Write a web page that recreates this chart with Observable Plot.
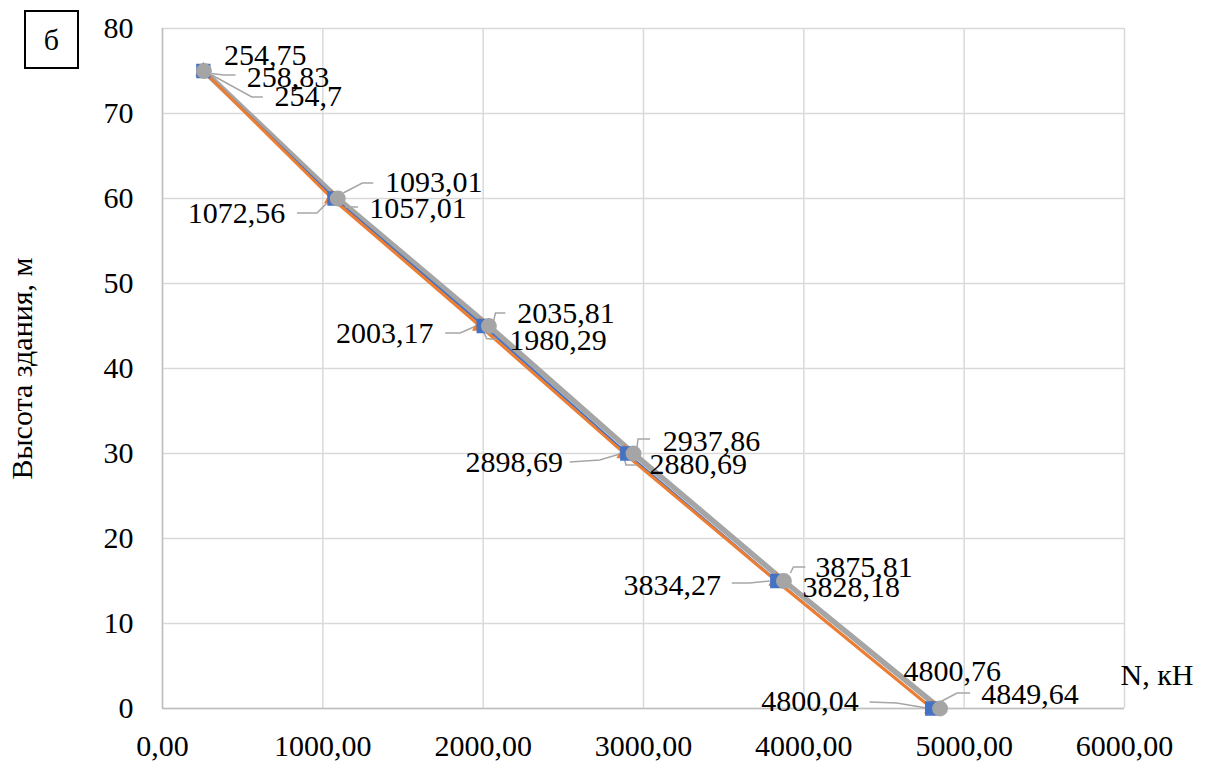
<!DOCTYPE html>
<html><head><meta charset="utf-8">
<script src="https://cdn.jsdelivr.net/npm/d3@7"></script>
<script src="https://cdn.jsdelivr.net/npm/@observablehq/plot@0.6"></script>
<style>
body{margin:0;background:#fff;}
#wrap{position:relative;width:1212px;height:762px;font-family:"Liberation Serif","Times New Roman",serif;}
#wrap svg, #wrap svg text{font-family:"Liberation Serif","Times New Roman",serif !important;}
#tag{position:absolute;left:24px;top:10px;width:51px;height:55px;border:2px solid #000;font-size:30px;display:flex;align-items:center;justify-content:center;line-height:1;}
</style></head><body>
<div id="wrap"><div id="tag">б</div></div>
<script>
// ---- data ----
const heights = [75, 60, 45, 30, 15, 0];
const seriesBlue   = [254.75, 1072.56, 2003.17, 2898.69, 3834.27, 4800.04];
const seriesOrange = [254.7, 1057.01, 1980.29, 2880.69, 3828.18, 4800.76];
const seriesGray   = [258.83, 1093.01, 2035.81, 2937.86, 3875.81, 4849.64];
const xTicks = [0, 1000, 2000, 3000, 4000, 5000, 6000];
const yTicks = [0, 10, 20, 30, 40, 50, 60, 70, 80];
const yTitle = "Высота здания, м";
const xTitle = "N, кН";

// ---- label layout (pixel offsets of label centre from its point, and leader polylines) ----
const layoutBlue = {
  offsets: [[62,-16],[-98,15],[-99,7],[-113,9],[-105,4],[-122,-7]],
  leaders: [null, [[-37,15],[-17,15],[-7,5]], [[-38,7.5],[-23,7.5],[-6,0]], [[-57,9],[-27,7],[-7,1]], [[-45,2.5],[-27,2.5],[-7,0.5]], [[-62,-6],[-35,-5],[-5,0]]]
};
const layoutOrange = {
  offsets: [[105,25],[86,10],[78,14],[74,11],[75,6],[20,-37]],
  leaders: [[[9,4.5],[49,26.5],[60,26.5]], [[13.5,9],[26.5,9]], [[4,6],[7,13],[17,14]], [[1,7],[2,12],[13,12]], null, null]
};
const layoutGray = {
  offsets: [[84,6],[96,-16],[77,-13],[78,-12],[80,-14],[90,-14]],
  leaders: [[[8,3],[20,4.5],[32,4.5]], [[6,-5],[25,-15],[36,-15]], [[5,-3.5],[7,-12.5],[17,-12.5]], [[4,-6],[5,-14],[17,-14]], [[7,-7.5],[10,-13.5],[22,-13.5]], [[0.5,-6],[17.5,-15],[30.5,-15]]]
};

const series = [
  {values: seriesBlue, color: "#4472C4", symbol: "square", r: 7.2, width: 2, layout: layoutBlue},
  {values: seriesOrange, color: "#ED7D31", symbol: "triangle", r: 5, width: 3, layout: layoutOrange},
  {values: seriesGray, color: "#A5A5A5", symbol: "circle", r: 7.2, width: 5.5, layout: layoutGray}
];
const rows = s => s.values.map((v, i) => ({N: v, h: heights[i], i}));
const fmtComma = v => String(v).replace(".", ",");
const fmtTick = v => v.toFixed(2).replace(".", ",");
const FONT = '"Liberation Serif", "Times New Roman", serif';

const leaderMark = (index, scales) => {
  const g = d3.create("svg:g").attr("fill", "none").attr("stroke", "#A6A6A6").attr("stroke-width", 1.5);
  series.forEach(s => {
    s.values.forEach((v, i) => {
      const pts = s.layout.leaders[i];
      if (!pts) return;
      const px = scales.x(v), py = scales.y(heights[i]);
      g.append("path").attr("d", d3.line()(pts.map(([dx, dy]) => [px + dx, py + dy])));
    });
  });
  return g.node();
};

const labelMarks = [];
series.forEach(s => {
  s.values.forEach((v, i) => {
    const [dx, dy] = s.layout.offsets[i];
    labelMarks.push(Plot.text([{N: v, h: heights[i]}], {x: "N", y: "h", text: d => fmtComma(d.N), dx, dy, fill: "#000", fontSize: 30, fontFamily: FONT, textAnchor: "middle"}));
  });
});

const plot = Plot.plot({
  width: 1212, height: 762,
  marginLeft: 162, marginRight: 88, marginTop: 28, marginBottom: 54,
  style: {fontFamily: FONT, fontSize: "30px", color: "#000", background: "#fff", overflow: "visible"},
  x: {domain: [0, 6000]},
  y: {domain: [0, 80]},
  marks: [
    Plot.gridX(xTicks, {stroke: "#D9D9D9", strokeOpacity: 1, strokeWidth: 1.5}),
    Plot.gridY(yTicks, {stroke: "#D9D9D9", strokeOpacity: 1, strokeWidth: 1.5}),
    Plot.ruleX([0], {stroke: "#BFBFBF", strokeWidth: 1.5}),
    Plot.ruleY([0], {stroke: "#BFBFBF", strokeWidth: 1.5}),
    Plot.axisX(xTicks, {tickSize: 0, tickPadding: 26, tickFormat: fmtTick, label: null, fontSize: 30, fontFamily: FONT}),
    Plot.axisY(yTicks, {tickSize: 0, tickPadding: 29, label: null, fontSize: 30, fontFamily: FONT}),
    Plot.text([yTitle], {frameAnchor: "left", dx: -140, rotate: -90, textAnchor: "middle", fontSize: 30, fontFamily: FONT}),
    Plot.text([xTitle], {frameAnchor: "bottom-right", dx: -4, dy: -24, textAnchor: "start", fontSize: 30, fontFamily: FONT}),
    Plot.line(rows(series[2]), {x: "N", y: "h", stroke: series[2].color, strokeWidth: series[2].width}),
    Plot.line(rows(series[0]), {x: "N", y: "h", stroke: series[0].color, strokeWidth: series[0].width}),
    Plot.line(rows(series[1]), {x: "N", y: "h", stroke: series[1].color, strokeWidth: series[1].width}),
    leaderMark,
    ...[series[1], series[0], series[2]].map(s => Plot.dot(rows(s), {x: "N", y: "h", symbol: s.symbol, r: s.r, fill: s.color, stroke: s.color})),
    ...labelMarks
  ]
});
document.getElementById("wrap").prepend(plot);
</script>
</body></html>
